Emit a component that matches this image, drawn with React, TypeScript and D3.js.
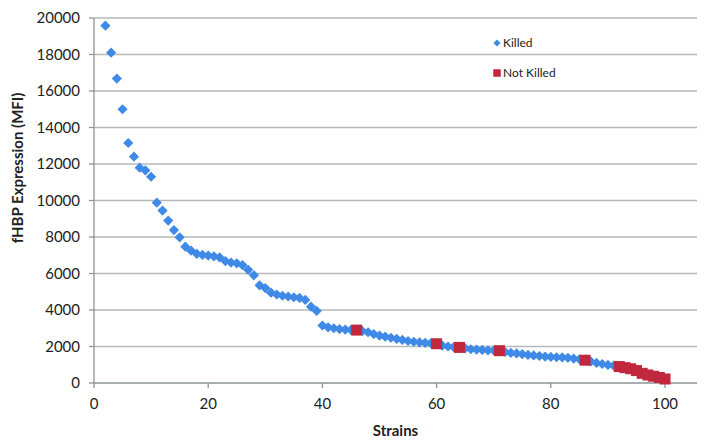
import React from "react";
import * as d3 from "d3";

const strains: number[] = [
  2, 3, 4, 5, 6, 7, 8, 9, 10, 11, 12, 13, 14, 15, 16, 17, 18, 19, 20, 21,
  22, 23, 24, 25, 26, 27, 28, 29, 30, 31, 32, 33, 34, 35, 36, 37, 38, 39, 40, 41,
  42, 43, 44, 45, 46, 47, 48, 49, 50, 51, 52, 53, 54, 55, 56, 57, 58, 59, 60, 61,
  62, 63, 64, 65, 66, 67, 68, 69, 70, 71, 72, 73, 74, 75, 76, 77, 78, 79, 80, 81,
  82, 83, 84, 85, 86, 87, 88, 89, 90, 91, 92, 93, 94, 95, 96, 97, 98, 99, 100,
];

const expression: number[] = [
  19580, 18100, 16680, 15000, 13150, 12400, 11800, 11650, 11300, 9880,
  9450, 8900, 8380, 7980, 7470, 7250, 7080, 7020, 6980, 6940,
  6880, 6680, 6600, 6560, 6460, 6200, 5900, 5350, 5200, 4950,
  4850, 4780, 4740, 4700, 4660, 4550, 4180, 3950, 3150, 3050,
  3000, 2950, 2930, 2910, 2900, 2850, 2780, 2680, 2600, 2540,
  2480, 2420, 2360, 2300, 2260, 2230, 2200, 2180, 2150, 2050,
  2000, 1970, 1950, 1900, 1850, 1830, 1810, 1790, 1780, 1770,
  1700, 1650, 1620, 1580, 1540, 1510, 1480, 1450, 1430, 1410,
  1400, 1380, 1340, 1300, 1250, 1180, 1100, 1040, 990, 950,
  900, 840, 780, 680, 530, 440, 370, 300, 220,
];

const notKilledStrains: number[] = [46, 60, 64, 71, 86, 92, 93, 94, 95, 96, 97, 98, 99, 100];

const yTicks: number[] = [0, 2000, 4000, 6000, 8000, 10000, 12000, 14000, 16000, 18000, 20000];
const xTicks: number[] = [0, 20, 40, 60, 80, 100];

const W = 708;
const H = 447;
const left = 94;
const right = 697;
const top = 18;
const bottom = 383;

const BLUE = "#3f8ae6";
const RED = "#c1273d";
const GRID = "#b4b8b8";
const AXIS = "#8c9494";
const FONT = "Lato, 'Open Sans', sans-serif";

export default function App() {
  const x = d3.scaleLinear().domain([0, 105.6]).range([left, right]);
  const y = d3.scaleLinear().domain([0, 20000]).range([bottom, top]);

  const points = strains.map((s, i) => ({
    s,
    v: expression[i],
    nk: notKilledStrains.includes(s),
  }));
  const killed = points.filter((p) => !p.nk);
  const notKilled = points.filter((p) => p.nk);

  const diamond = d3.symbol(d3.symbolSquare, 52)() as string;
  const square = d3.symbol(d3.symbolSquare, 121)() as string;
  const legendDiamond = d3.symbol(d3.symbolSquare, 26)() as string;
  const legendSquare = d3.symbol(d3.symbolSquare, 56)() as string;

  return (
    <svg
      width={W}
      height={H}
      style={{ position: "absolute", left: 0, top: 0, background: "#fff" }}
      fontFamily={FONT}
    >
      <rect x={0} y={0} width={W} height={H} fill="#fff" />
      {/* gridlines */}
      {yTicks.map((t) => (
        <line
          key={"g" + t}
          x1={left}
          x2={right}
          y1={y(t)}
          y2={y(t)}
          stroke={t === 0 ? AXIS : GRID}
          strokeWidth={1.3}
        />
      ))}
      {/* y axis */}
      <line x1={left} x2={left} y1={top} y2={bottom} stroke={AXIS} strokeWidth={1.3} />
      {yTicks.map((t) => (
        <g key={"yt" + t}>
          <line x1={left - 5} x2={left} y1={y(t)} y2={y(t)} stroke={AXIS} strokeWidth={1.3} />
          <text
            x={80}
            y={y(t)}
            dy="0.35em"
            textAnchor="end"
            fontSize={15}
            fill="#222"
          >
            {t}
          </text>
        </g>
      ))}
      {/* x axis ticks */}
      {xTicks.map((t) => (
        <g key={"xt" + t}>
          <line x1={x(t)} x2={x(t)} y1={bottom} y2={bottom + 5} stroke={AXIS} strokeWidth={1.3} />
          <text
            x={x(t)}
            y={bottom + 21}
            dy="0.35em"
            textAnchor="middle"
            fontSize={15}
            fill="#222"
          >
            {t}
          </text>
        </g>
      ))}
      {/* axis titles */}
      <text
        x={(left + right) / 2}
        y={431}
        dy="0.35em"
        textAnchor="middle"
        fontSize={15}
        fontWeight="bold"
        fill="#222"
      >
        Strains
      </text>
      <text
        transform={`translate(18, 168) rotate(-90)`}
        dy="0.35em"
        textAnchor="middle"
        fontSize={15}
        fontWeight="bold"
        fill="#222"
      >
        fHBP Expression (MFI)
      </text>
      {/* points */}
      {killed.map((p) => (
        <path
          key={"k" + p.s}
          d={diamond}
          transform={`translate(${x(p.s)},${y(p.v)}) rotate(45)`}
          fill={BLUE}
        />
      ))}
      {notKilled.map((p) => (
        <path
          key={"n" + p.s}
          d={square}
          transform={`translate(${x(p.s)},${y(p.v)})`}
          fill={RED}
        />
      ))}
      {/* legend */}
      <path d={legendDiamond} transform="translate(497,43) rotate(45)" fill={BLUE} />
      <text x={503} y={43} dy="0.35em" fontSize={12} fill="#222">
        Killed
      </text>
      <path d={legendSquare} transform="translate(497,73)" fill={RED} />
      <text x={503} y={73} dy="0.35em" fontSize={12} fill="#222">
        Not Killed
      </text>
    </svg>
  );
}
